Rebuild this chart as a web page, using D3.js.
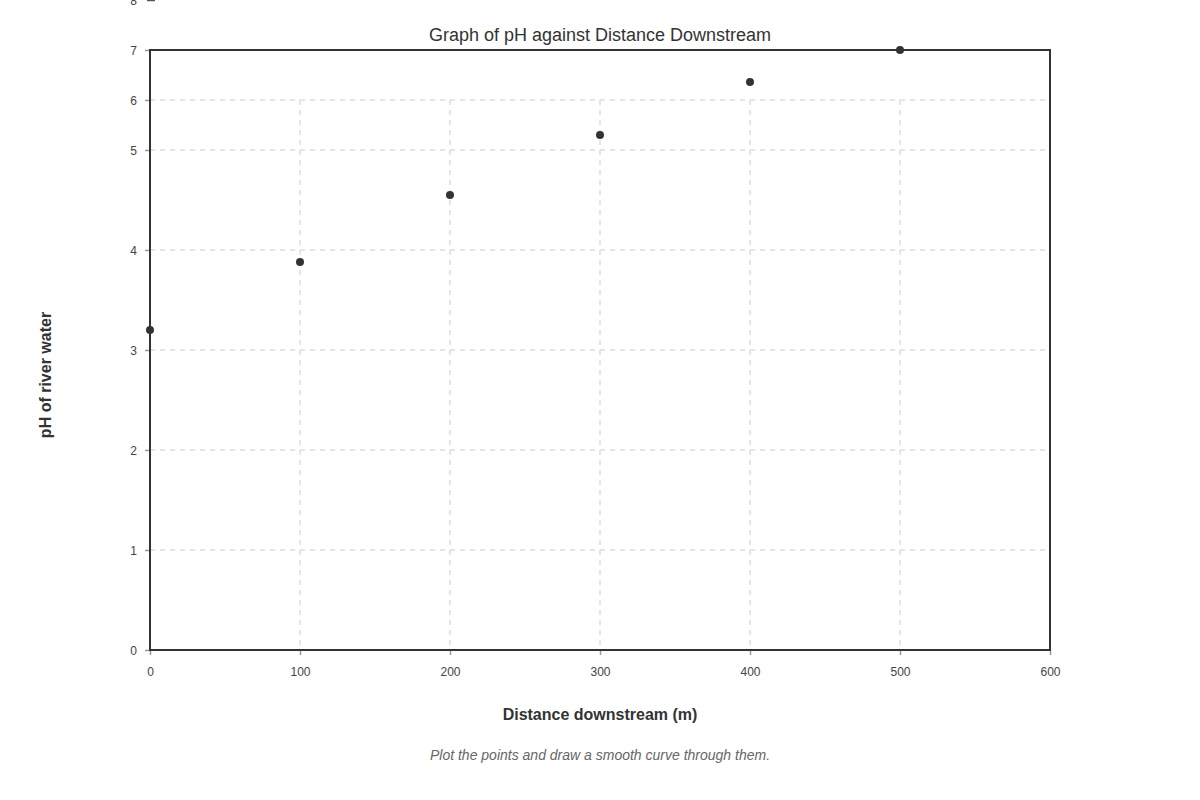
<!DOCTYPE html>
<html>
<head>
<meta charset="utf-8">
<script src="https://cdn.jsdelivr.net/npm/d3@7"></script>
<style>
    body { margin: 0; background: #fff; }
    text { font-family: "Liberation Sans", Arial, sans-serif; }
</style>
</head>
<body>
<div class="graphic"></div>
<script>
// data
var distances = [0, 100, 200, 300, 400, 500];
var phValues = [3.2, 3.88, 4.55, 5.3, 6.36, 7.0];
var xTicks = [0, 100, 200, 300, 400, 500, 600];
var yTicks = [0, 1, 2, 3, 4, 5, 6, 7, 8];

var render = function () {
    var width = 1200;
    var height = 800;
    var box = { left: 150, right: 1050, top: 50, bottom: 650 };

    var svg = d3
        .select(".graphic")
        .append("svg")
        .attr("width", width)
        .attr("height", height);

    var x_scale = d3.scaleLinear().domain([0, 600]).range([box.left, box.right]);

    // y axis is stretched below 5 and squashed above it
    var y_scale = d3
        .scaleLinear()
        .domain([0, 5, 8])
        .range([box.bottom, 150, 0]);

    // grid
    var grid = svg.append("g")
        .attr("stroke", "#ddd")
        .attr("stroke-width", 1.5)
        .attr("stroke-dasharray", "5,5");

    grid.selectAll("line.h")
        .data(yTicks.filter((d) => d > 0 && d < 7))
        .join("line")
        .attr("class", "h")
        .attr("x1", box.left)
        .attr("x2", box.right - 3)
        .attr("y1", (d) => y_scale(d))
        .attr("y2", (d) => y_scale(d));

    grid.selectAll("line.v")
        .data(xTicks.filter((d) => d > 0 && d < 600))
        .join("line")
        .attr("class", "v")
        .attr("x1", (d) => x_scale(d))
        .attr("x2", (d) => x_scale(d))
        .attr("y1", y_scale(6))
        .attr("y2", box.bottom);

    // axes
    var xAxis = (g) =>
        g
            .attr("transform", `translate(0,${box.bottom})`)
            .call(d3.axisBottom(x_scale).tickValues(xTicks).tickSize(5).tickPadding(12))
            .call((g) => g.select(".domain").remove());

    var yAxis = (g) =>
        g
            .attr("transform", `translate(${box.left},0)`)
            .call(d3.axisLeft(y_scale).tickValues(yTicks).tickSize(5).tickPadding(8))
            .call((g) => g.select(".domain").remove());

    var gx = svg.append("g").call(xAxis);
    var gy = svg.append("g").call(yAxis);

    [gx, gy].forEach(function (g) {
        g.selectAll("line").attr("stroke", "#999").attr("stroke-width", 1.5);
        g.selectAll("text")
            .attr("fill", "#444")
            .style("font-size", "12px")
            .style("font-family", "'Liberation Sans', Arial, sans-serif");
    });
    gy.selectAll("text").attr("dy", "0.4em");
    // top tick sits outside the frame and is drawn darker
    gy.selectAll(".tick")
        .filter((d) => d === 8)
        .select("line")
        .attr("x1", -3)
        .attr("x2", 5)
        .attr("stroke", "#555");

    // frame
    svg.append("rect")
        .attr("x", box.left)
        .attr("y", box.top)
        .attr("width", box.right - box.left)
        .attr("height", box.bottom - box.top)
        .attr("fill", "none")
        .attr("stroke", "#333")
        .attr("stroke-width", 2);

    // points
    svg.append("g")
        .selectAll("circle")
        .data(distances)
        .join("circle")
        .attr("cx", (d) => x_scale(d))
        .attr("cy", (d, i) => y_scale(phValues[i]))
        .attr("r", 4)
        .attr("fill", "#333");

    // text
    svg.append("text")
        .attr("x", 600)
        .attr("y", 41)
        .attr("text-anchor", "middle")
        .attr("fill", "#333")
        .style("font-size", "18px")
        .text("Graph of pH against Distance Downstream");

    svg.append("text")
        .attr("x", 600)
        .attr("y", 720)
        .attr("text-anchor", "middle")
        .attr("fill", "#333")
        .style("font-size", "16px")
        .style("font-weight", "bold")
        .text("Distance downstream (m)");

    svg.append("text")
        .attr("transform", "translate(51,375) rotate(-90)")
        .attr("text-anchor", "middle")
        .attr("fill", "#333")
        .style("font-size", "16px")
        .style("font-weight", "bold")
        .text("pH of river water");

    svg.append("text")
        .attr("x", 600)
        .attr("y", 760)
        .attr("text-anchor", "middle")
        .attr("fill", "#666")
        .style("font-size", "14px")
        .style("font-style", "italic")
        .text("Plot the points and draw a smooth curve through them.");
};

render();
</script>
</body>
</html>
